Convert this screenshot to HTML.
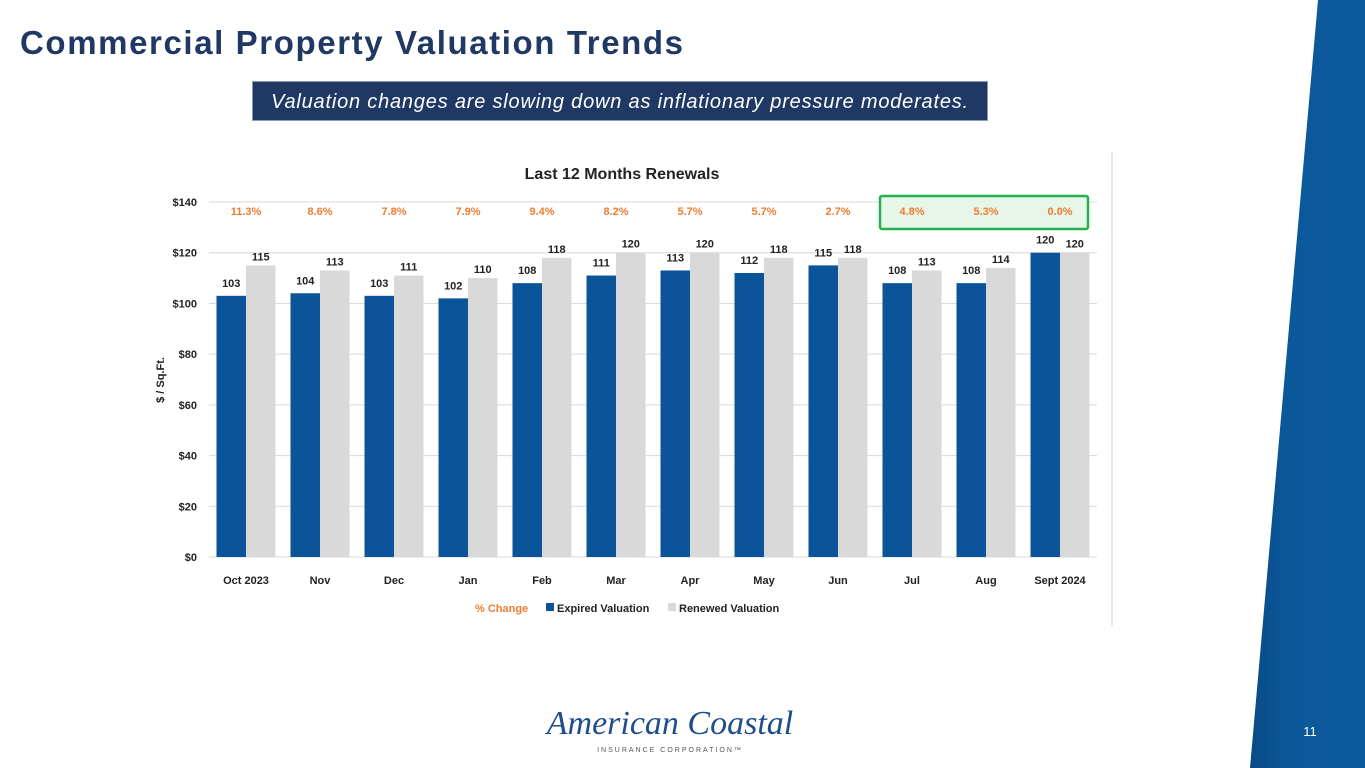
<!DOCTYPE html>
<html><head><meta charset="utf-8"><style>
body{margin:0;width:1365px;height:768px;overflow:hidden;background:#fff;font-family:"Liberation Sans",sans-serif;position:relative}
.title{position:absolute;left:20px;top:24px;font-size:33px;font-weight:bold;color:#1f3864;letter-spacing:1.6px}
.sub{position:absolute;left:252px;top:81px;width:736px;height:40px;background:#1f3864;color:#fff;font-style:italic;font-size:20px;letter-spacing:0.8px;line-height:40px;text-align:center;border:1px solid #8a9ab5;box-sizing:border-box}
</style></head><body>
<div class="title">Commercial Property Valuation Trends</div>
<div class="sub">Valuation changes are slowing down as inflationary pressure moderates.</div>
<svg width="1365" height="768" style="position:absolute;left:0;top:0">
<defs><linearGradient id="bg" x1="0" x2="1"><stop offset="0" stop-color="#0a4a86"/><stop offset="0.3" stop-color="#0b5799"/><stop offset="1" stop-color="#0b5a9e"/></linearGradient></defs>
<polygon points="1318,0 1365,0 1365,768 1250,768" fill="url(#bg)"/>
<text x="1310" y="736" fill="#fff" font-size="13" text-anchor="middle">11</text>
<line x1="1112" y1="152" x2="1112" y2="626" stroke="#d0d0d0"/>
<text x="670" y="734" font-family="Liberation Serif" font-style="italic" font-size="34" fill="#1f4e8c" text-anchor="middle">American Coastal</text>
<text x="670" y="752" font-size="7" letter-spacing="2" fill="#555" text-anchor="middle">INSURANCE CORPORATION™</text>
<g id="chart"></g>
</svg>
<script>
const categories=["Oct 2023","Nov","Dec","Jan","Feb","Mar","Apr","May","Jun","Jul","Aug","Sept 2024"];
const expired=[103,104,103,102,108,111,113,112,115,108,108,120];
const renewed=[115,113,111,110,118,120,120,118,118,113,114,120];
const pctChange=["11.3%","8.6%","7.8%","7.9%","9.4%","8.2%","5.7%","5.7%","2.7%","4.8%","5.3%","0.0%"];
const yTicks=[0,20,40,60,80,100,120,140];
const NS="http://www.w3.org/2000/svg";
const g=document.getElementById('chart');
const x0=209,x1=1097,y0=557,y1=202,ymax=140;
const bw=(x1-x0)/categories.length;
const Y=v=>y0-(v/ymax)*(y0-y1);
const X=i=>x0+bw*(i+0.5);
function mk(t,a,txt){const e=document.createElementNS(NS,t);for(const k in a)e.setAttribute(k,a[k]);if(txt!=null)e.textContent=txt;g.appendChild(e);return e;}
let e;
e=mk('text',{x:622,y:179,'font-size':16,'font-weight':'bold','text-anchor':'middle',fill:'#222'},'Last 12 Months Renewals');


yTicks.forEach(t=>{
 e=mk('line',{x1:x0,x2:x1,y1:Y(t),y2:Y(t),stroke:'#d9d9d9'});
 
 
 e=mk('text',{x:197,y:Y(t)+4,'font-size':11,'font-weight':'bold','text-anchor':'end',fill:'#222'},'$'+t);
 
 
});
e=mk('text',{x:0,y:0,'font-size':11,'font-weight':'bold','text-anchor':'middle',fill:'#222',transform:'translate(164,380) rotate(-90)'},'$ / Sq.Ft.');


e=mk('rect',{x:880,y:196,width:208,height:33,fill:'#e8f5e9',stroke:'#22b14c','stroke-width':2.5,rx:2});


categories.forEach((c,i)=>{
 const cx=X(i),w=29.5;
 e=mk('rect',{x:cx-w,y:Y(expired[i]),width:w,height:y0-Y(expired[i]),fill:'#0b5499'});
 
 
 e=mk('rect',{x:cx,y:Y(renewed[i]),width:w,height:y0-Y(renewed[i]),fill:'#d9d9d9'});
 
 
 e=mk('text',{x:cx-w/2,y:Y(expired[i])-9,'font-size':11,'font-weight':'bold','text-anchor':'middle',fill:'#222'},expired[i]);
 
 
 e=mk('text',{x:cx+w/2,y:Y(renewed[i])-5,'font-size':11,'font-weight':'bold','text-anchor':'middle',fill:'#222'},renewed[i]);
 
 
 e=mk('text',{x:cx,y:215,'font-size':11,'font-weight':'bold','text-anchor':'middle',fill:'#ed7d31'},pctChange[i]);
 
 
 e=mk('text',{x:cx,y:584,'font-size':11,'font-weight':'bold','text-anchor':'middle',fill:'#222'},c);
 
 
});
e=mk('text',{x:475,y:612,'font-size':11,'font-weight':'bold',fill:'#ed7d31'},'% Change');


e=mk('rect',{x:546,y:603,width:8,height:8,fill:'#0b5499'});


e=mk('text',{x:557,y:612,'font-size':11,'font-weight':'bold',fill:'#222'},'Expired Valuation');


e=mk('rect',{x:668,y:603,width:8,height:8,fill:'#d9d9d9'});


e=mk('text',{x:679,y:612,'font-size':11,'font-weight':'bold',fill:'#222'},'Renewed Valuation');


</script>
</body></html>
